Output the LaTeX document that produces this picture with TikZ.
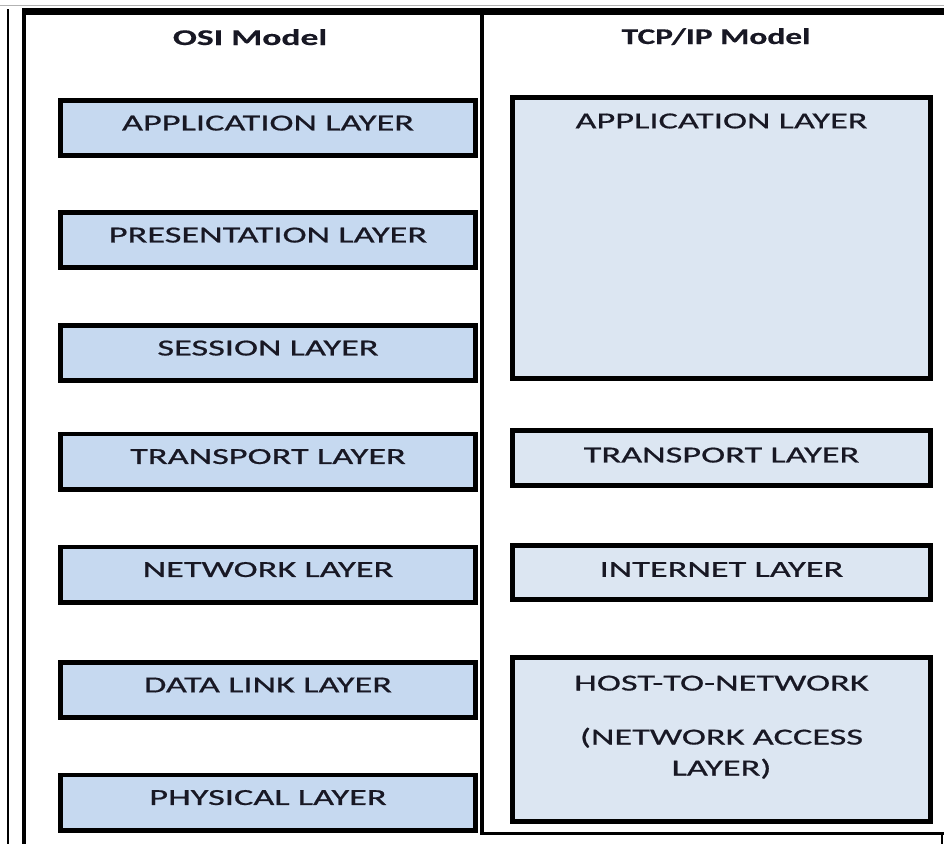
\documentclass[tikz,border=0pt]{standalone}
\usepackage{fontspec}
\setmainfont{Carlito}[FakeStretch=1.58, UprightFeatures={FakeBold=0.7}, BoldFeatures={FakeBold=0.4}]
\definecolor{osifill}{RGB}{198,217,240}
\definecolor{tcpfill}{RGB}{220,230,242}
\definecolor{txt}{RGB}{24,24,36}
\begin{document}
\begin{tikzpicture}[x=1pt,y=-1pt,
  every node/.style={text=txt, font=\fontsize{23}{31}\selectfont},
  title/.style={font=\bfseries\fontsize{22.5}{26}\selectfont, inner sep=0},
  layerbox/.style={draw=black, line width=4.8pt, rectangle, inner sep=0, outer sep=0},
  osibox/.style={layerbox, fill=osifill, minimum width=415pt, minimum height=55.2pt, text depth=10pt},
  tcpbox/.style={layerbox, fill=tcpfill, minimum width=418pt},
  toplabel/.style={anchor=north, inner sep=0, text=txt, align=center}
]
\useasboundingbox[fill=white] (0,0) rectangle (944,844);

% page frame
\draw[gray!60, line width=1.5pt] (0,5.5) -- (944,5.5);
\draw[black, line width=7pt] (22,11.5) -- (944,11.5);
\draw[black, line width=2pt] (7.5,9) -- (7.5,844);
\draw[black, line width=4pt] (24,8) -- (24,844);
\draw[black, line width=4pt] (482,15) -- (482,835.25);
\draw[black, line width=3.5pt] (480,833.5) -- (944,833.5);
\draw[black, line width=1.5pt] (942,832) -- (942,844);

% column titles
\node[title, anchor=base] (osititle) at (250,45) {OSI Model};
\node[title, anchor=base, xscale=0.94] (tcptitle) at (716,44) {TCP/IP Model};

% OSI layers
\node[osibox] (app)   at (268,128)   {APPLICATION LAYER};
\node[osibox] (pres)  at (268,240)   {PRESENTATION LAYER};
\node[osibox] (sess)  at (268,353)   {SESSION LAYER};
\node[osibox] (trans) at (268,461.5) {TRANSPORT LAYER};
\node[osibox] (net)   at (268,574.5) {NETWORK LAYER};
\node[osibox] (link)  at (268,690)   {DATA LINK LAYER};
\node[osibox] (phys)  at (268,802.5) {PHYSICAL LAYER};

% TCP/IP layers
\node[tcpbox, minimum height=281.5pt,
      label={[toplabel, yshift=-16pt]north:APPLICATION LAYER}] (tapp) at (721.5,238) {};
\node[tcpbox, minimum height=55.2pt, text depth=6pt] (ttrans) at (721.5,458) {TRANSPORT LAYER};
\node[tcpbox, minimum height=54.2pt, text depth=6pt] (tinet) at (721.5,572.5) {INTERNET LAYER};
\node[tcpbox, minimum height=164.2pt,
      label={[toplabel, yshift=-18pt]north:{HOST-TO-NETWORK\\[23pt](NETWORK ACCESS\\LAYER)}}] (thost) at (721.5,739.5) {};
\end{tikzpicture}
\end{document}
